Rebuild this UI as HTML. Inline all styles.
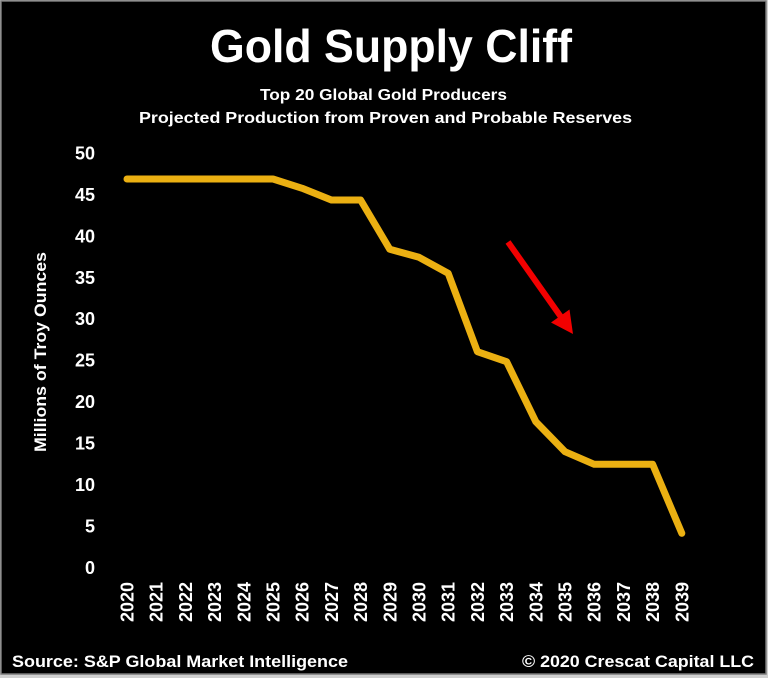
<!DOCTYPE html>
<html>
<head>
<meta charset="utf-8">
<style>
  html,body{margin:0;padding:0;background:#c8c8c8;}
  svg{display:block;}
  text{font-family:"Liberation Sans",Arial,sans-serif;font-weight:bold;fill:#ffffff;}
</style>
</head>
<body>
<svg width="768" height="678" viewBox="0 0 768 678" xmlns="http://www.w3.org/2000/svg">
  <rect x="0" y="0" width="768" height="678" fill="#cfcfcf"/>
  <rect x="1" y="1" width="765" height="673" fill="#000" stroke="#7a7a7a" stroke-width="1.5"/>

  <!-- Title -->
  <text x="210" y="62" font-size="46" textLength="362" lengthAdjust="spacingAndGlyphs">Gold Supply Cliff</text>
  <text x="260" y="100" font-size="15.5" textLength="247" lengthAdjust="spacingAndGlyphs">Top 20 Global Gold Producers</text>
  <text x="139" y="123" font-size="15.5" textLength="493" lengthAdjust="spacingAndGlyphs">Projected Production from Proven and Probable Reserves</text>

  <!-- Y axis title -->
  <text transform="translate(46,352) rotate(-90)" text-anchor="middle" font-size="17" textLength="200" lengthAdjust="spacingAndGlyphs">Millions of Troy Ounces</text>

  <!-- Y tick labels -->
  <g font-size="18" text-anchor="end">
    <text x="95" y="159.5">50</text>
    <text x="95" y="201">45</text>
    <text x="95" y="242.5">40</text>
    <text x="95" y="284">35</text>
    <text x="95" y="325">30</text>
    <text x="95" y="366.5">25</text>
    <text x="95" y="408">20</text>
    <text x="95" y="449.5">15</text>
    <text x="95" y="491">10</text>
    <text x="95" y="532.5">5</text>
    <text x="95" y="574">0</text>
  </g>

  <!-- X tick labels -->
  <g font-size="18" text-anchor="end">
    <text transform="translate(133.5,582) rotate(-90)" textLength="40" lengthAdjust="spacingAndGlyphs">2020</text>
    <text transform="translate(162.7,582) rotate(-90)" textLength="40" lengthAdjust="spacingAndGlyphs">2021</text>
    <text transform="translate(191.9,582) rotate(-90)" textLength="40" lengthAdjust="spacingAndGlyphs">2022</text>
    <text transform="translate(221.1,582) rotate(-90)" textLength="40" lengthAdjust="spacingAndGlyphs">2023</text>
    <text transform="translate(250.3,582) rotate(-90)" textLength="40" lengthAdjust="spacingAndGlyphs">2024</text>
    <text transform="translate(279.5,582) rotate(-90)" textLength="40" lengthAdjust="spacingAndGlyphs">2025</text>
    <text transform="translate(308.7,582) rotate(-90)" textLength="40" lengthAdjust="spacingAndGlyphs">2026</text>
    <text transform="translate(337.9,582) rotate(-90)" textLength="40" lengthAdjust="spacingAndGlyphs">2027</text>
    <text transform="translate(367.1,582) rotate(-90)" textLength="40" lengthAdjust="spacingAndGlyphs">2028</text>
    <text transform="translate(396.3,582) rotate(-90)" textLength="40" lengthAdjust="spacingAndGlyphs">2029</text>
    <text transform="translate(425.5,582) rotate(-90)" textLength="40" lengthAdjust="spacingAndGlyphs">2030</text>
    <text transform="translate(454.7,582) rotate(-90)" textLength="40" lengthAdjust="spacingAndGlyphs">2031</text>
    <text transform="translate(483.9,582) rotate(-90)" textLength="40" lengthAdjust="spacingAndGlyphs">2032</text>
    <text transform="translate(513.1,582) rotate(-90)" textLength="40" lengthAdjust="spacingAndGlyphs">2033</text>
    <text transform="translate(542.3,582) rotate(-90)" textLength="40" lengthAdjust="spacingAndGlyphs">2034</text>
    <text transform="translate(571.5,582) rotate(-90)" textLength="40" lengthAdjust="spacingAndGlyphs">2035</text>
    <text transform="translate(600.7,582) rotate(-90)" textLength="40" lengthAdjust="spacingAndGlyphs">2036</text>
    <text transform="translate(629.9,582) rotate(-90)" textLength="40" lengthAdjust="spacingAndGlyphs">2037</text>
    <text transform="translate(659.1,582) rotate(-90)" textLength="40" lengthAdjust="spacingAndGlyphs">2038</text>
    <text transform="translate(688.3,582) rotate(-90)" textLength="40" lengthAdjust="spacingAndGlyphs">2039</text>
  </g>

  <!-- Data line -->
  <polyline fill="none" stroke="#EBB012" stroke-width="7" stroke-linejoin="round" stroke-linecap="round"
    points="127,179 156.2,179 185.4,179 214.6,179 243.8,179 273,179 302.2,188.3 331.4,200 360.6,200 389.8,249.3 419,257.3 448.2,273.3 477.4,351.7 506.6,361.7 535.8,421.7 565,451.7 594.2,464.3 623.4,464.3 652.6,464.3 681.8,533.3"/>

  <!-- Red arrow -->
  <line x1="508" y1="242" x2="561" y2="317" stroke="#f20000" stroke-width="6"/>
  <polygon points="573,334 551,322.5 569.5,309.5" fill="#f20000"/>

  <!-- Footer -->
  <text x="12" y="667" font-size="17" textLength="336" lengthAdjust="spacingAndGlyphs">Source: S&amp;P Global Market Intelligence</text>
  <text x="754" y="667" font-size="17" text-anchor="end" textLength="232" lengthAdjust="spacingAndGlyphs">© 2020 Crescat Capital LLC</text>
</svg>
</body>
</html>
